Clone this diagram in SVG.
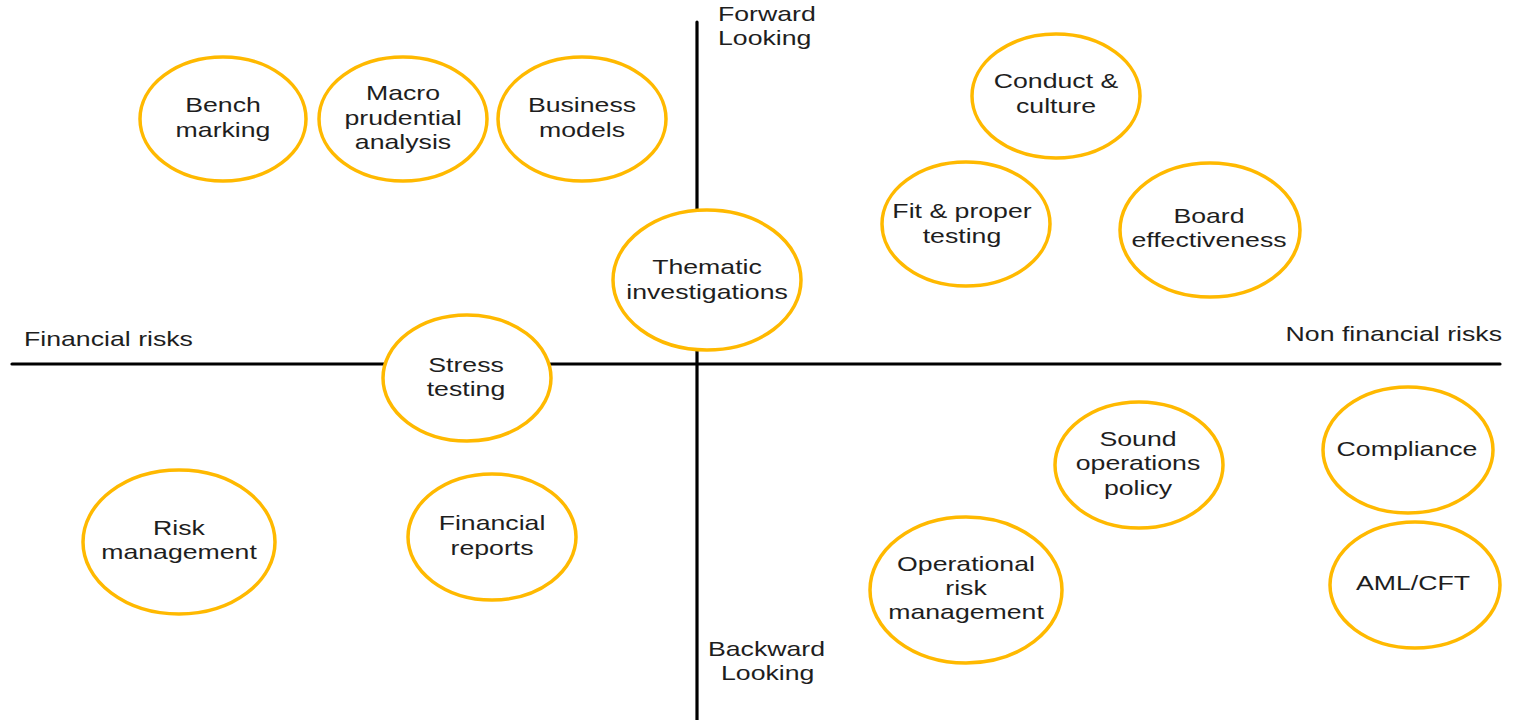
<svg xmlns="http://www.w3.org/2000/svg" width="1513" height="720" viewBox="0 0 1513 720">
<style>
.bg{fill:#ffffff}
.axis{stroke:#000000;stroke-width:3.2;stroke-linecap:round;fill:none}
.node{fill:#ffffff;stroke:#FFB900;stroke-width:3.5}
.t{font-family:"Liberation Sans",Arial,sans-serif;font-size:21px;fill:#1e1e1e;text-anchor:middle}
.l{font-family:"Liberation Sans",Arial,sans-serif;font-size:21px;fill:#1e1e1e}
</style>
<rect class="bg" x="0" y="0" width="1513" height="720"/>
<g id="connectors">
<line class="axis" x1="12" y1="364" x2="1500" y2="364"/>
<line class="axis" x1="697" y1="22" x2="697" y2="722"/>
</g>
<g id="axis-labels">
<text class="l" transform="translate(718 0) scale(1.27 1)" x="0" y="21">Forward</text>
<text class="l" transform="translate(718 0) scale(1.27 1)" x="0" y="45">Looking</text>
<text class="l" transform="translate(708 0) scale(1.27 1)" x="0" y="656">Backward</text>
<text class="l" transform="translate(721 0) scale(1.27 1)" x="0" y="680">Looking</text>
<text class="l" transform="translate(24 0) scale(1.27 1)" x="0" y="346">Financial risks</text>
<text class="l" transform="translate(1502 0) scale(1.27 1)" x="0" y="341" text-anchor="end">Non financial risks</text>
</g>
<g id="n-benchmarking">
<ellipse class="node" cx="223" cy="119" rx="83" ry="62"/>
<text class="t" transform="translate(223 0) scale(1.27 1)"><tspan x="0" y="112">Bench</tspan><tspan x="0" y="137">marking</tspan></text>
</g>
<g id="n-macro">
<ellipse class="node" cx="403" cy="119" rx="84" ry="62"/>
<text class="t" transform="translate(403 0) scale(1.27 1)"><tspan x="0" y="100">Macro</tspan><tspan x="0" y="125">prudential</tspan><tspan x="0" y="149">analysis</tspan></text>
</g>
<g id="n-business">
<ellipse class="node" cx="582" cy="119" rx="84" ry="62"/>
<text class="t" transform="translate(582 0) scale(1.27 1)"><tspan x="0" y="112">Business</tspan><tspan x="0" y="137">models</tspan></text>
</g>
<g id="n-thematic">
<ellipse class="node" cx="707" cy="280" rx="94" ry="70"/>
<text class="t" transform="translate(707 0) scale(1.27 1)"><tspan x="0" y="274">Thematic</tspan><tspan x="0" y="299">investigations</tspan></text>
</g>
<g id="n-conduct">
<ellipse class="node" cx="1056" cy="96" rx="84" ry="62"/>
<text class="t" transform="translate(1056 0) scale(1.27 1)"><tspan x="0" y="88">Conduct &amp;</tspan><tspan x="0" y="113">culture</tspan></text>
</g>
<g id="n-fit">
<ellipse class="node" cx="966" cy="224" rx="84" ry="62"/>
<text class="t" transform="translate(962 0) scale(1.27 1)"><tspan x="0" y="218">Fit &amp; proper</tspan><tspan x="0" y="243">testing</tspan></text>
</g>
<g id="n-board">
<ellipse class="node" cx="1210" cy="230" rx="90" ry="67"/>
<text class="t" transform="translate(1209 0) scale(1.27 1)"><tspan x="0" y="223">Board</tspan><tspan x="0" y="247">effectiveness</tspan></text>
</g>
<g id="n-stress">
<ellipse class="node" cx="467" cy="378" rx="84" ry="63"/>
<text class="t" transform="translate(466 0) scale(1.27 1)"><tspan x="0" y="372">Stress</tspan><tspan x="0" y="396">testing</tspan></text>
</g>
<g id="n-risk">
<ellipse class="node" cx="179" cy="542" rx="96" ry="72"/>
<text class="t" transform="translate(179 0) scale(1.27 1)"><tspan x="0" y="535">Risk</tspan><tspan x="0" y="559">management</tspan></text>
</g>
<g id="n-financial-reports">
<ellipse class="node" cx="492" cy="537" rx="84" ry="63"/>
<text class="t" transform="translate(492 0) scale(1.27 1)"><tspan x="0" y="530">Financial</tspan><tspan x="0" y="555">reports</tspan></text>
</g>
<g id="n-sound">
<ellipse class="node" cx="1139" cy="465" rx="84" ry="63"/>
<text class="t" transform="translate(1138 0) scale(1.27 1)"><tspan x="0" y="446">Sound</tspan><tspan x="0" y="470">operations</tspan><tspan x="0" y="495">policy</tspan></text>
</g>
<g id="n-compliance">
<ellipse class="node" cx="1408" cy="450" rx="85" ry="63"/>
<text class="t" transform="translate(1407 0) scale(1.27 1)"><tspan x="0" y="456">Compliance</tspan></text>
</g>
<g id="n-aml">
<ellipse class="node" cx="1415" cy="585" rx="85" ry="63"/>
<text class="t" transform="translate(1413 0) scale(1.27 1)"><tspan x="0" y="590">AML/CFT</tspan></text>
</g>
<g id="n-oprisk">
<ellipse class="node" cx="966" cy="590" rx="96" ry="73"/>
<text class="t" transform="translate(966 0) scale(1.27 1)"><tspan x="0" y="571">Operational</tspan><tspan x="0" y="595">risk</tspan><tspan x="0" y="619">management</tspan></text>
</g>
</svg>
